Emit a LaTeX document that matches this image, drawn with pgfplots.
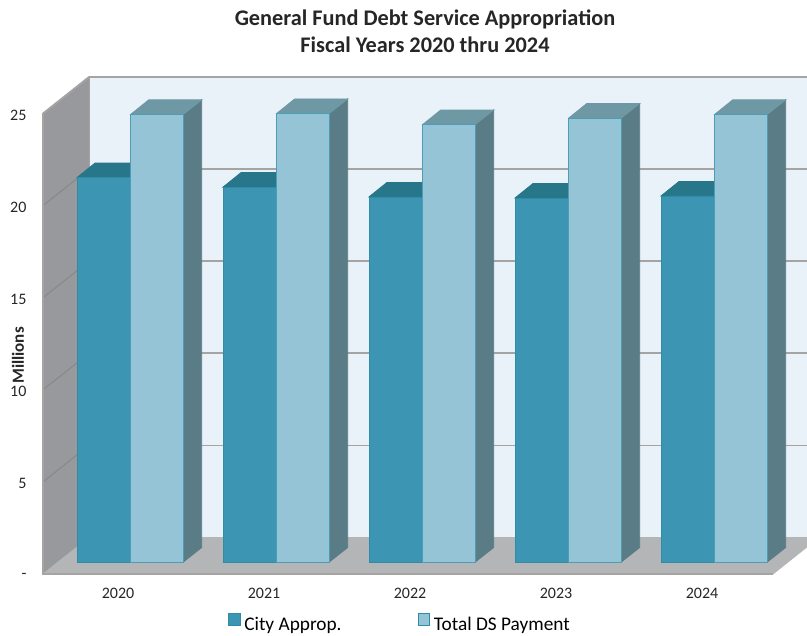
\documentclass[border=0pt]{standalone}
\usepackage{fontspec}
\setmainfont{Carlito}
\usepackage{pgfplots}
\usepackage{pgfplotstable}
\pgfplotsset{compat=1.18}
\definecolor{cityF}{HTML}{3C96B3}
\definecolor{cityT}{HTML}{27768A}
\definecolor{cityE}{HTML}{2F8BA6}
\definecolor{totF}{HTML}{94C4D6}
\definecolor{totT}{HTML}{6E98A4}
\definecolor{totS}{HTML}{5A7C87}
\definecolor{totE}{HTML}{4C9DB5}
\definecolor{wallL}{HTML}{98999D}
\definecolor{floorC}{HTML}{B3B5B7}
\definecolor{wallB}{HTML}{E9F1F9}
\definecolor{gridC}{HTML}{A6A4A3}
\definecolor{gridL}{HTML}{88888B}
\pgfplotstableread{
pos city total
0 20.87 24.30
1 20.35 24.35
2 19.82 23.75
3 19.76 24.10
4 19.87 24.30
}\debttable
% one pixel of the reference = 1pt; 146 px per year, 18.42 px per unit
\newcommand{\poly}[2]{\addplot[forget plot,fill=#1,draw=#1,line width=0.8pt] coordinates {#2} -- cycle;}
\newcommand{\facegroup}[3]{%
 \pgfmathsetmacro{\xa}{#1-41/146}\pgfmathsetmacro{\xb}{#1+12.7/146}\pgfmathsetmacro{\xc}{#1+65.3/146}%
 \pgfmathsetmacro{\xat}{#1-41/146+18/146}\pgfmathsetmacro{\xbt}{#1+12.7/146+18/146}\pgfmathsetmacro{\xct}{#1+83.7/146}%
 \pgfmathsetmacro{\ya}{#2+12/18.42}\pgfmathsetmacro{\yat}{#2+26.5/18.42}%
 \pgfmathsetmacro{\yb}{#3+12/18.42}\pgfmathsetmacro{\ybt}{#3+26.5/18.42}%
 \pgfmathsetmacro{\yz}{12/18.42}\pgfmathsetmacro{\yzt}{26.5/18.42}%
 \edef\tmp{\noexpand\poly{cityT}{(\xa,\ya)(\xat,\yat)(\xbt,\yat)(\xb,\ya)}%
  \noexpand\poly{totS}{(\xc,\yz)(\xct,\yzt)(\xct,\ybt)(\xc,\yb)}%
  \noexpand\poly{totT}{(\xb,\yb)(\xbt,\ybt)(\xct,\ybt)(\xc,\yb)}}\tmp}
\begin{document}
\begin{tikzpicture}[x=1pt,y=1pt]
\path[use as bounding box] (0,0) rectangle (807,636);
\begin{axis}[
  at={(43pt,62pt)},anchor=south west,
  scale only axis,width=764pt,height=497.34pt,
  xmin=-0.51370,xmax=4.71918,ymin=0,ymax=27,
  clip=false,axis line style={draw=none},
  tick style={draw=none},
  xtick={0,1,2,3,4},xticklabels={2020,2021,2022,2023,2024},
  ytick={0,5,10,15,20,25},yticklabels={-\hspace{7pt},5,10,15,20,25},
  tick label style={font=\fontsize{16}{18}\selectfont,text=black!85},
  xticklabel style={yshift=-11pt},
  yticklabel style={xshift=-13pt,yshift=-1.5pt},
  legend columns=2,
  legend style={at={(185pt,-60pt)},anchor=south west,draw=none,fill=none,
    font=\fontsize{19.3}{21}\selectfont,inner sep=0pt,outer sep=0pt,
    /tikz/every even column/.append style={column sep=74pt}},
]
% back wall, floor, left wall
\poly{wallB}{(-0.19863,1.98)(4.71918,1.98)(4.71918,26.98)(-0.19863,26.98)}
\poly{wallL}{(-0.5137,0)(-0.19863,1.98)(-0.19863,26.98)(-0.5137,25)}
\poly{floorC}{(-0.5137,0)(4.4863,0)(4.71918,1.47)(4.71918,1.98)(-0.19863,1.98)}
% gridlines on the walls
\addplot[forget plot,draw=gridC,line width=1.8pt] coordinates {(-0.19863,6.98)(4.71918,6.98)};
\addplot[forget plot,draw=gridC,line width=1.8pt] coordinates {(-0.19863,11.98)(4.71918,11.98)};
\addplot[forget plot,draw=gridC,line width=1.8pt] coordinates {(-0.19863,16.98)(4.71918,16.98)};
\addplot[forget plot,draw=gridC,line width=1.8pt] coordinates {(-0.19863,21.98)(4.71918,21.98)};
\addplot[forget plot,draw=gridC,line width=1.8pt] coordinates {(-0.5137,25)(-0.19863,26.98)(4.71918,26.98)};
\addplot[forget plot,draw=gridL,line width=1pt] coordinates {(-0.5137,5)(-0.19863,6.98)};
\addplot[forget plot,draw=gridL,line width=1pt] coordinates {(-0.5137,10)(-0.19863,11.98)};
\addplot[forget plot,draw=gridL,line width=1pt] coordinates {(-0.5137,15)(-0.19863,16.98)};
\addplot[forget plot,draw=gridL,line width=1pt] coordinates {(-0.5137,20)(-0.19863,21.98)};
\addplot[forget plot,draw=gridC,line width=1.4pt] coordinates {(-0.5137,25)(-0.5137,0)(4.4863,0)};
\addplot[forget plot,draw=gridC,line width=1pt] coordinates {(-0.19863,1.98)(-0.19863,26.98)};
% side and top faces
\facegroup{0}{20.87}{24.30}
\facegroup{1}{20.35}{24.35}
\facegroup{2}{19.82}{23.75}
\facegroup{3}{19.76}{24.10}
\facegroup{4}{19.87}{24.30}
% front faces
\addplot[ybar,bar width=53.7pt,bar shift=-14.15pt,yshift=12pt,fill=cityF,draw=cityE,line width=0.8pt,area legend,
  legend image code/.code={\draw[fill=cityF,draw=cityE,line width=0.8pt] (0pt,-13pt) rectangle (11.5pt,-1pt);\path (13.5pt,-1pt);}]
  table[x=pos,y=city] {\debttable};
\addlegendentry{City Approp.}
\addplot[ybar,bar width=52.6pt,bar shift=39pt,yshift=12pt,fill=totF,draw=totE,line width=0.8pt,area legend,
  legend image code/.code={\draw[fill=totF,draw=cityE,line width=0.8pt] (0pt,-13pt) rectangle (11.5pt,-1pt);\path (13.5pt,-1pt);}]
  table[x=pos,y=total] {\debttable};
\addlegendentry{Total DS Payment}
\end{axis}
\node[anchor=center,rotate=90,font=\bfseries\fontsize{17}{19}\selectfont,text=black!85] at (18,280.5) {Millions};
\node[anchor=center,align=center,font=\bfseries\fontsize{22.3}{27}\selectfont,text=black!85] at (425,604.5) {General Fund Debt Service Appropriation\\Fiscal Years 2020 thru 2024};
\end{tikzpicture}
\end{document}
